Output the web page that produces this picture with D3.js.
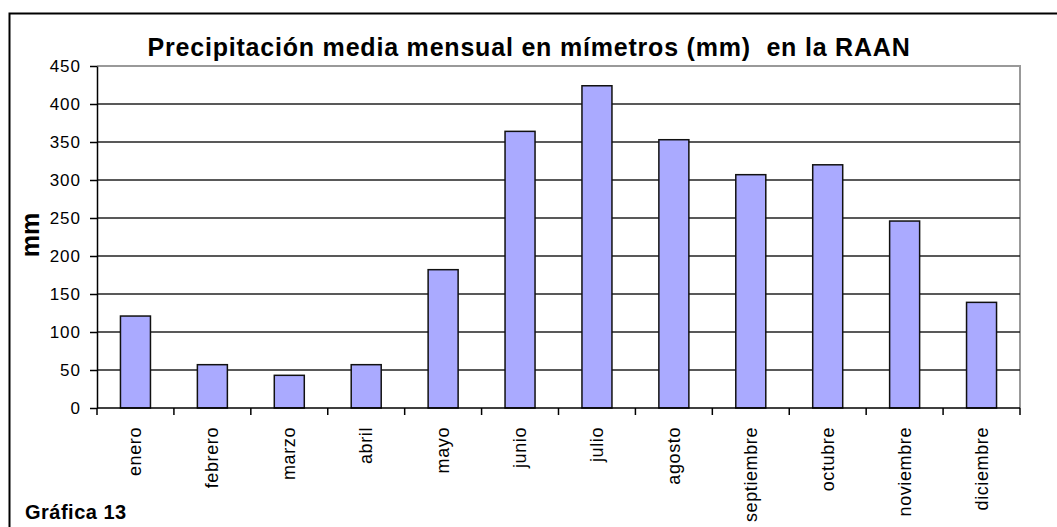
<!DOCTYPE html>
<html>
<head>
<meta charset="utf-8">
<script src="https://cdn.jsdelivr.net/npm/d3@7"></script>
<style>
  body { margin: 0; background: #fff; }
  text { font-family: "Liberation Sans", Arial, sans-serif; fill: #000; }
</style>
</head>
<body>
<script>
var months = ["enero", "febrero", "marzo", "abril", "mayo", "junio", "julio",
    "agosto", "septiembre", "octubre", "noviembre", "diciembre"];
var rainfall = [121, 57, 43, 57, 182, 364, 424, 353, 307, 320, 246, 139];
var yTicks = [0, 50, 100, 150, 200, 250, 300, 350, 400, 450];

var width = 1057, height = 527;
var margin = { left: 97, right: 37, top: 66, bottom: 119 };

var svg = d3.select("body")
    .append("svg")
    .attr("width", width)
    .attr("height", height);

// outer frame (runs off the right and bottom of the picture)
svg.append("rect")
    .attr("x", 9.5).attr("y", 13.5)
    .attr("width", width + 20).attr("height", height + 20)
    .attr("fill", "none")
    .attr("stroke", "#000")
    .attr("stroke-width", 2);

var x = d3.scaleBand()
    .domain(months)
    .range([margin.left, width - margin.right])
    .paddingInner(0.61)
    .paddingOuter(0.305);

var y = d3.scaleLinear()
    .domain([0, 450])
    .range([height - margin.bottom, margin.top]);

// plot frame top and right in grey
svg.append("path")
    .attr("d", "M" + margin.left + "," + y(450) + "H" + (width - margin.right) + "V" + y(0))
    .attr("fill", "none")
    .attr("stroke", "#999")
    .attr("stroke-width", 2);

// gridlines
svg.append("g")
    .selectAll("line")
    .data(yTicks.filter(function (d) { return d > 0 && d < 450; }))
    .enter().append("line")
    .attr("x1", margin.left).attr("x2", width - margin.right)
    .attr("y1", function (d) { return y(d); })
    .attr("y2", function (d) { return y(d); })
    .attr("stroke", "#222")
    .attr("stroke-width", 1.5);

// bars
svg.append("g")
    .selectAll("rect")
    .data(rainfall)
    .enter().append("rect")
    .attr("x", function (d, i) { return x(months[i]); })
    .attr("y", function (d) { return y(d); })
    .attr("width", x.bandwidth())
    .attr("height", function (d) { return y(0) - y(d); })
    .attr("fill", "#aaaaff")
    .attr("stroke", "#111")
    .attr("stroke-width", 1.5);

// y axis
var yAxis = svg.append("g")
    .attr("transform", "translate(" + margin.left + ",0)")
    .call(d3.axisLeft(y).tickValues(yTicks).tickSize(7).tickPadding(9).tickSizeOuter(0));
yAxis.select(".domain").attr("stroke", "#000").attr("stroke-width", 1.5);
yAxis.selectAll(".tick line").attr("stroke", "#000").attr("stroke-width", 1.5);
yAxis.selectAll("text")
    .style("font-size", "17px")
    .style("letter-spacing", "1px")
    .attr("fill", "#000");

// x axis with ticks between categories
var step = x.step();
var boundaries = d3.range(months.length + 1);
var xAxis = svg.append("g")
    .attr("transform", "translate(0," + y(0) + ")");
xAxis.append("line")
    .attr("x1", margin.left).attr("x2", width - margin.right)
    .attr("stroke", "#000").attr("stroke-width", 1.5);
xAxis.selectAll(".sep")
    .data(boundaries)
    .enter().append("line")
    .attr("class", "sep")
    .attr("x1", function (d) { return margin.left + d * step; })
    .attr("x2", function (d) { return margin.left + d * step; })
    .attr("y1", 0).attr("y2", 7)
    .attr("stroke", "#000").attr("stroke-width", 1.5);
xAxis.selectAll(".lbl")
    .data(months)
    .enter().append("text")
    .attr("class", "lbl")
    .attr("transform", function (d) {
        return "translate(" + (x(d) + x.bandwidth() / 2 + 6) + ",19) rotate(-90)";
    })
    .attr("text-anchor", "end")
    .style("font-size", "18px")
    .style("letter-spacing", "0.6px")
    .text(function (d) { return d; });

// title
svg.append("text")
    .attr("x", 529).attr("y", 56)
    .attr("text-anchor", "middle")
    .style("font-size", "25px")
    .style("font-weight", "bold")
    .style("letter-spacing", "0.8px")
    .style("white-space", "pre")
    .text("Precipitación media mensual en mímetros (mm)  en la RAAN");

// y label
svg.append("text")
    .attr("transform", "translate(39,235) rotate(-90)")
    .attr("text-anchor", "middle")
    .style("font-size", "25px")
    .style("font-weight", "bold")
    .text("mm");

svg.append("text")
    .attr("x", 25).attr("y", 519)
    .style("font-size", "20px")
    .style("font-weight", "bold")
    .style("letter-spacing", "0.5px")
    .text("Gráfica 13");
</script>
</body>
</html>
